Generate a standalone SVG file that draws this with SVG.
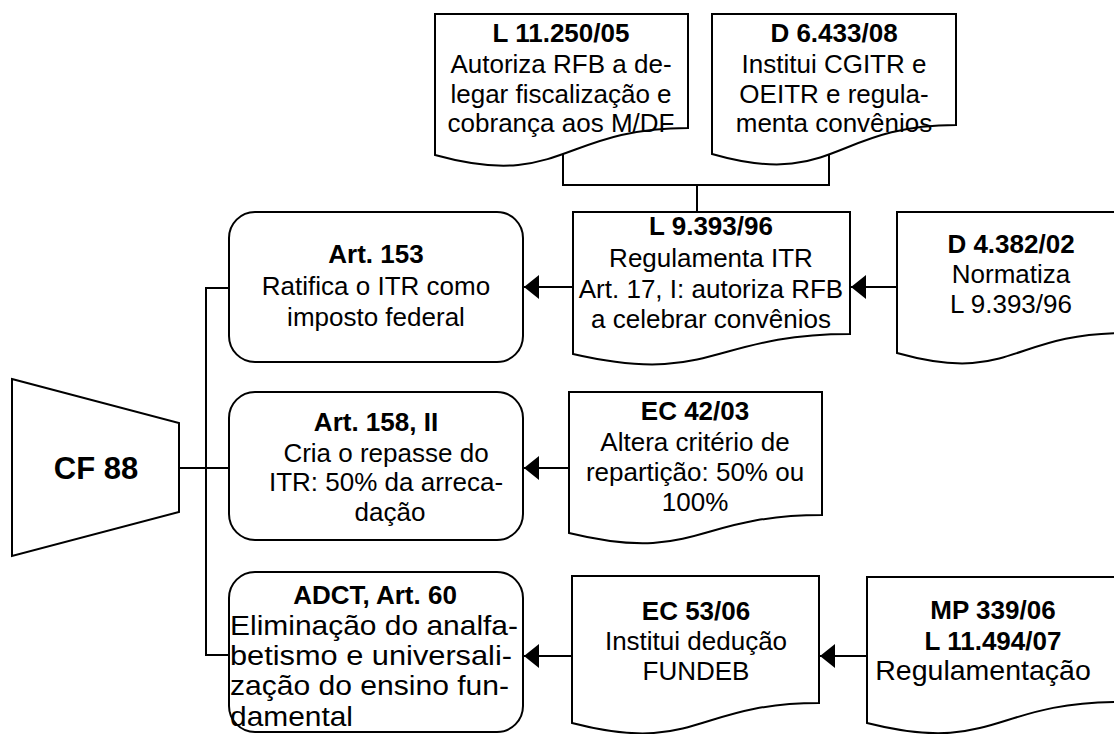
<svg xmlns="http://www.w3.org/2000/svg" width="1114" height="734" viewBox="0 0 1114 734">
<defs>
<style>
.n{fill:#fff;stroke:#000;stroke-width:2}
.c{fill:none;stroke:#000;stroke-width:2}
text{font-family:"Liberation Sans",Arial,sans-serif;font-size:26px;fill:#000;text-anchor:middle}
.b{font-weight:bold}
.l{text-anchor:start;font-size:27.5px}
</style>
<marker id="ah" viewBox="0 0 15 24" refX="15" refY="12" markerWidth="15" markerHeight="24" markerUnits="userSpaceOnUse" orient="auto">
<path d="M0,0 L15,12 L0,24 Z" fill="#000"/>
</marker>
</defs>
<rect width="1114" height="734" fill="#fff"/>
<g id="connectors">
<polyline class="c" points="563,150 563,185 829,185 829,150"/>
<line class="c" x1="697" y1="185" x2="697" y2="212"/>
<line class="c" x1="897" y1="287" x2="851" y2="287" marker-end="url(#ah)"/>
<line class="c" x1="573" y1="287" x2="524" y2="287" marker-end="url(#ah)"/>
<line class="c" x1="569" y1="468" x2="524" y2="468" marker-end="url(#ah)"/>
<line class="c" x1="867" y1="656" x2="820" y2="656" marker-end="url(#ah)"/>
<line class="c" x1="572" y1="656" x2="524" y2="656" marker-end="url(#ah)"/>
<line class="c" x1="179" y1="468" x2="229" y2="468"/>
<polyline class="c" points="229,288 206,288 206,655 229,655"/>
</g>
<g id="l11250">
<path class="n" d="M435,14 H688 V128 C561.5,128 561.5,190 435,155 Z"/>
<text x="561" y="42" class="b">L 11.250/05</text>
<text x="561" y="73">Autoriza RFB a de-</text>
<text x="561" y="103">legar fiscalização e</text>
<text x="561" y="132">cobrança aos M/DF</text>
</g>
<g id="d6433">
<path class="n" d="M712,14 H956 V125 C834,125 834,189 712,154 Z"/>
<text x="834" y="42" class="b">D 6.433/08</text>
<text x="834" y="73">Institui CGITR e</text>
<text x="834" y="103">OEITR e regula-</text>
<text x="834" y="132">menta convênios</text>
</g>
<g id="l9393">
<path class="n" d="M573,212 H850 V334 C711.5,334 711.5,386 573,354 Z"/>
<text x="711" y="235" class="b">L 9.393/96</text>
<text x="711" y="267">Regulamenta ITR</text>
<text x="711" y="298">Art. 17, I: autoriza RFB</text>
<text x="711" y="328">a celebrar convênios</text>
</g>
<g id="d4382">
<path class="n" d="M897,212 H1125 V333 C1011,333 1011,385 897,353 Z"/>
<text x="1011" y="253" class="b">D 4.382/02</text>
<text x="1011" y="283">Normatiza</text>
<text x="1011" y="313">L 9.393/96</text>
</g>
<g id="art153">
<rect class="n" x="229" y="212" width="294" height="150" rx="26" ry="26"/>
<text x="376" y="263" class="b">Art. 153</text>
<text x="376" y="295">Ratifica o ITR como</text>
<text x="376" y="326">imposto federal</text>
</g>
<g id="cf88">
<polygon class="n" points="12,379 179,423 179,512 12,556"/>
<text x="96" y="479" class="b" style="font-size:31px">CF 88</text>
</g>
<g id="art158">
<rect class="n" x="229" y="392" width="294" height="148" rx="26" ry="26"/>
<text x="376" y="431" class="b">Art. 158, II</text>
<text x="386" y="462">Cria o repasse do</text>
<text x="386" y="491">ITR: 50% da arreca-</text>
<text x="390" y="521">dação</text>
</g>
<g id="ec4203">
<path class="n" d="M569,392 H822 V515 C695.5,515 695.5,564 569,533 Z"/>
<text x="695" y="420" class="b">EC 42/03</text>
<text x="695" y="451">Altera critério de</text>
<text x="695" y="481">repartição: 50% ou</text>
<text x="695" y="511">100%</text>
</g>
<g id="adct">
<rect class="n" x="229" y="572" width="294" height="160" rx="26" ry="26"/>
<text x="375" y="604" class="b">ADCT, Art. 60</text>
<text x="230" y="635" class="l" textLength="288" lengthAdjust="spacingAndGlyphs">Eliminação do analfa-</text>
<text x="230" y="665" class="l" textLength="282" lengthAdjust="spacingAndGlyphs">betismo e universali-</text>
<text x="230" y="695" class="l" textLength="279" lengthAdjust="spacingAndGlyphs">zação do ensino fun-</text>
<text x="230" y="726" class="l" textLength="123" lengthAdjust="spacingAndGlyphs">damental</text>
</g>
<g id="ec5306">
<path class="n" d="M572,576 H819 V703 C695.5,703 695.5,755 572,723 Z"/>
<text x="696" y="620" class="b">EC 53/06</text>
<text x="696" y="650">Institui dedução</text>
<text x="696" y="680">FUNDEB</text>
</g>
<g id="mp33906">
<path class="n" d="M867,577 H1119 V702 C993,702 993,755 867,723 Z"/>
<text x="993" y="619" class="b">MP 339/06</text>
<text x="993" y="650" class="b">L 11.494/07</text>
<text x="983" y="680" style="font-size:28.5px">Regulamentação</text>
</g>
</svg>
